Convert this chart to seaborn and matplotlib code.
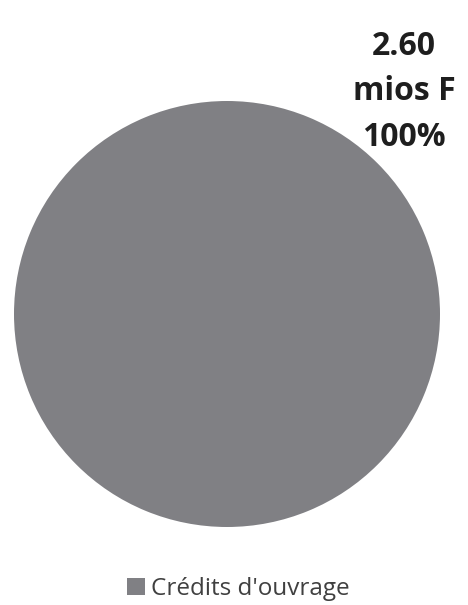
import seaborn as sns
import matplotlib.pyplot as plt
from matplotlib.patches import Patch

categories = ["Crédits d'ouvrage"]
values = [2.60]
value_labels = ["2.60\nmios F\n100%"]
colors = ["#808084"]

sns.set_style("white")
plt.rcParams['font.family'] = ['Open Sans', 'DejaVu Sans']

fig = plt.figure(figsize=(4.68, 6.05), dpi=100)
ax = fig.add_axes([14 / 468, 78 / 605, 426 / 468, 426 / 605])
ax.pie(values, colors=colors, startangle=90, counterclock=False,
       wedgeprops={"linewidth": 0})
ax.set_xlim(-1, 1)
ax.set_ylim(-1, 1)
ax.set_aspect("equal")
ax.axis("off")

# data label sits above-right of the pie
fig.text(404 / 468, 1 - 92 / 605, value_labels[0], ha="center", va="center",
         fontsize=23, fontweight="bold", color="#1e1e1e", linespacing=1.5)

handles = [Patch(facecolor=c, edgecolor="none") for c in colors]
fig.legend(handles, categories, loc="center", bbox_to_anchor=(238 / 468, 1 - 589 / 605),
           frameon=False, fontsize=17.5, labelcolor="#404040",
           handlelength=0.75, handleheight=0.75, handletextpad=0.25)

fig.savefig("out.png", dpi=100)
